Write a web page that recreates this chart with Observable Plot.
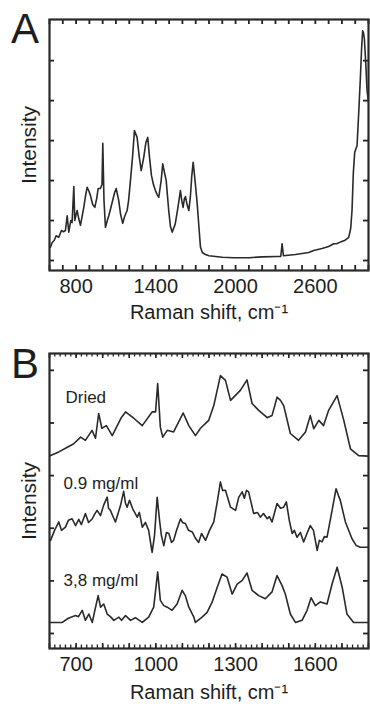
<!DOCTYPE html>
<html><head><meta charset="utf-8">
<script src="https://cdn.jsdelivr.net/npm/d3@7"></script>
<script src="https://cdn.jsdelivr.net/npm/@observablehq/plot@0.6"></script>
<style>
html,body{margin:0;padding:0;background:#fff;}
body{width:370px;height:704px;overflow:hidden;font-family:"Liberation Sans",Arial,sans-serif;}
#wrap{position:relative;width:370px;height:704px;}
.panel{position:absolute;left:0;}
.letter{position:absolute;font-size:42px;line-height:1;color:#1e1e1e;}
</style></head><body>
<div id="wrap">
  <div id="pa" class="panel" style="top:0px"></div>
  <div id="pb" class="panel" style="top:330px"></div>
  <div class="letter" style="left:11px;top:8px">A</div>
  <div class="letter" style="left:11px;top:343px">B</div>
</div>
<script>
// ---------- Panel A data (full range spectrum) ----------
const shiftA = [607,620,635,650,670,690,705,720,733,745,760,770,783,790,800,808,820,833,845,858,870,883,895,908,925,941,955,966,983,995,1001,1010,1021,1035,1046,1060,1075,1090,1102,1121,1135,1151,1165,1184,1195,1209,1225,1239,1259,1275,1290,1310,1325,1339,1352,1367,1382,1397,1410,1422,1440,1452,1465,1478,1497,1510,1523,1545,1565,1585,1595,1605,1615,1623,1635,1648,1660,1670,1681,1695,1711,1725,1736,1750,1773,1800,1850,1900,1986,2100,2200,2312,2340,2350,2360,2450,2550,2588,2650,2700,2738,2760,2788,2820,2851,2866,2876,2886,2896,2914,2925,2939,2948,2956,2962,2969,2980,2989,2999];
const intensityA = [0.33,0.45,0.5,0.62,0.58,0.75,0.72,0.75,1.12,0.71,1.0,0.95,1.85,1.0,1.15,1.25,1.05,0.88,1.1,1.33,1.6,1.83,1.75,1.63,1.4,1.33,1.55,1.8,1.8,1.9,2.93,1.5,0.83,1.0,1.12,1.3,1.5,1.7,1.8,1.5,1.15,0.93,1.1,1.25,1.5,2.0,2.6,3.25,3.08,2.6,2.25,2.6,2.95,3.08,2.6,2.13,1.9,1.75,1.65,1.58,2.0,2.42,2.2,2.0,1.25,0.85,0.71,0.9,1.3,1.75,1.5,1.33,1.55,1.6,1.4,1.25,1.6,2.1,2.46,2.0,1.43,0.8,0.33,0.2,0.15,0.12,0.1,0.08,0.07,0.07,0.09,0.1,0.1,0.42,0.12,0.15,0.2,0.25,0.3,0.35,0.42,0.42,0.46,0.5,0.58,0.8,1.25,2.2,2.7,2.88,3.6,4.58,5.3,5.75,5.7,5.55,4.9,4.25,4.0];

// ---------- Panel B data (fingerprint region, offset spectra) ----------
const driedShift = [604,635,667,690,717,735,760,773,785,797,814,836,855,870,886,917,949,986,999,1007,1017,1026,1043,1067,1103,1124,1149,1168,1199,1218,1243,1262,1281,1318,1343,1362,1387,1419,1437,1456,1469,1481,1506,1537,1563,1581,1594,1613,1631,1650,1682,1707,1732,1763,1799];
const driedInt = [3.38,3.45,3.54,3.6,3.73,3.67,3.86,3.71,4.18,3.9,3.95,3.76,3.95,4.1,4.21,4.09,3.95,4.21,4.21,4.75,3.92,3.73,3.86,3.83,4.19,3.95,3.76,3.9,4.05,4.33,4.9,4.81,4.43,4.62,4.82,4.37,4.24,4.1,4.14,4.49,4.43,4.33,3.8,3.67,3.83,4.14,3.89,4.05,3.95,4.24,4.52,4.05,3.51,3.38,3.37];

const lowShift = [604,619,635,645,660,671,685,698,710,720,735,747,761,769,779,792,803,817,822,829,841,848,859,867,879,886,892,901,913,930,938,949,961,973,986,995,1005,1014,1021,1030,1040,1049,1059,1067,1078,1093,1100,1111,1123,1137,1149,1161,1172,1187,1202,1218,1232,1243,1251,1262,1273,1281,1300,1312,1325,1333,1341,1349,1368,1382,1393,1405,1419,1427,1437,1456,1469,1481,1491,1502,1513,1521,1531,1544,1556,1570,1581,1593,1607,1615,1625,1634,1644,1663,1678,1687,1694,1713,1738,1754,1769,1799];
const lowInt = [1.77,1.96,2.12,1.96,2.02,2.15,2.18,2.05,2.17,2.07,2.28,2.11,2.18,2.26,2.34,2.24,2.43,2.59,2.38,2.34,2.2,2.12,2.3,2.43,2.7,2.47,2.4,2.53,2.37,2.21,2.3,2.02,2.11,1.96,1.54,1.86,2.59,2.15,1.86,1.67,1.92,1.9,1.73,1.77,1.96,2.18,2.11,2.09,1.96,1.93,1.81,1.73,1.9,1.77,1.96,2.12,2.53,2.88,2.72,2.72,2.53,2.4,2.34,2.59,2.69,2.57,2.72,2.69,2.28,2.3,2.21,2.28,2.18,2.22,2.12,2.47,2.38,2.4,2.5,2.15,1.9,1.96,1.83,1.92,1.74,1.92,2.05,1.96,1.58,1.77,1.74,1.84,1.83,2.34,2.75,2.62,2.53,2.12,1.8,1.67,1.64,1.64];

const highShift = [604,648,671,698,709,723,735,748,761,769,783,792,804,817,829,842,861,871,886,905,923,949,973,992,1007,1017,1030,1043,1061,1080,1099,1111,1124,1143,1149,1174,1193,1212,1231,1249,1268,1287,1306,1325,1343,1362,1387,1412,1437,1456,1475,1487,1506,1525,1550,1569,1584,1600,1619,1644,1663,1682,1701,1719,1744,1799];
const highInt = [0.21,0.21,0.29,0.34,0.32,0.44,0.25,0.37,0.21,0.4,0.72,0.5,0.56,0.37,0.32,0.25,0.31,0.25,0.34,0.25,0.3,0.21,0.31,0.5,1.17,0.63,0.53,0.5,0.44,0.56,0.82,0.72,0.5,0.31,0.21,0.31,0.4,0.6,0.88,1.13,1.07,0.75,0.94,1.01,1.15,0.82,0.72,0.66,0.79,1.1,0.91,0.75,0.37,0.21,0.25,0.44,0.68,0.53,0.6,0.56,0.94,1.26,0.88,0.37,0.21,0.21];

const seriesNames = ["Dried", "0.9 mg/ml", "3,8 mg/ml"];
const labelShift = [660, 653, 653];
const labelIntensity = [4.49, 2.85, 1.0];

// ---------- axis ticks ----------
const tickLabelsA = [800, 1400, 2000, 2600];
const tickLabelsB = [700, 1000, 1300, 1600];
const yTicks = [0, 1, 2, 3, 4, 5];
const minorA = d3.range(600, 3001, 100);
const minorB = d3.range(600, 1801, 20);
const majorB = d3.range(600, 1801, 100);

const INK = "#2a2a2a";
const TICK = "#222";
const FONT = "Liberation Sans, Arial, sans-serif";
const xTitle = "Raman shift, cm\u207B\u00B9";

// inward-pointing box ticks on all four sides of the frame
function boxAxes(dims, labels, minor, major, minorLen, majorLen, minorW, titleOffset) {
  const none = () => "";
  const iw = dims.width - dims.marginLeft - dims.marginRight;
  const ih = dims.height - dims.marginTop - dims.marginBottom;
  const m = [
    Plot.axisX({anchor: "bottom", ticks: labels, tickSize: 0, tickPadding: 8, fontSize: 20, fill: "#1e1e1e",
      tickFormat: d => String(d), label: xTitle, labelAnchor: "center", labelOffset: titleOffset, labelArrow: "none"}),
    Plot.axisY({anchor: "left", ticks: [], tickSize: 0, tickFormat: none, fill: "#1e1e1e",
      label: "Intensity", labelAnchor: "center", labelOffset: 28, labelArrow: "none"}),
    Plot.ruleX(minor, {x: d => d, insetTop: ih - minorLen, stroke: TICK, strokeWidth: minorW}),
    Plot.ruleX(minor, {x: d => d, insetBottom: ih - minorLen, stroke: TICK, strokeWidth: minorW}),
    Plot.ruleY(yTicks, {y: d => d, insetRight: iw - 5, stroke: TICK, strokeWidth: 1.8}),
    Plot.ruleY(yTicks, {y: d => d, insetLeft: iw - 5, stroke: TICK, strokeWidth: 1.8})
  ];
  if (major) {
    m.push(Plot.ruleX(major, {x: d => d, insetTop: ih - majorLen, stroke: TICK, strokeWidth: 1.6}));
    m.push(Plot.ruleX(major, {x: d => d, insetBottom: ih - majorLen, stroke: TICK, strokeWidth: 1.6}));
  }
  return m;
}

const dimsA = {width: 370, height: 330, marginLeft: 49, marginRight: 2, marginTop: 19, marginBottom: 60};
const dataA = shiftA.map((s, i) => ({shift: s, intensity: intensityA[i]}));

const plotA = Plot.plot({
  ...dimsA,
  style: {fontFamily: FONT, fontSize: "21px", background: "#fff", color: "#1e1e1e"},
  x: {domain: [600, 3000]},
  y: {domain: [-0.25, 6.03]},
  marks: [
    ...boxAxes(dimsA, tickLabelsA, minorA, null, 5, 5, 1.8, 48),
    Plot.line(dataA, {x: "shift", y: "intensity", stroke: INK, strokeWidth: 1.6}),
    Plot.frame({stroke: INK, strokeWidth: 2.2})
  ]
});
document.getElementById("pa").appendChild(plotA);

const dimsB = {width: 370, height: 374, marginLeft: 49, marginRight: 2, marginTop: 23, marginBottom: 56};
const dataB = [
  ...driedShift.map((s, i) => ({series: seriesNames[0], shift: s, intensity: driedInt[i]})),
  ...lowShift.map((s, i) => ({series: seriesNames[1], shift: s, intensity: lowInt[i]})),
  ...highShift.map((s, i) => ({series: seriesNames[2], shift: s, intensity: highInt[i]}))
];
const labelsB = seriesNames.map((n, i) => ({name: n, shift: labelShift[i], intensity: labelIntensity[i]}));

const plotB = Plot.plot({
  ...dimsB,
  style: {fontFamily: FONT, fontSize: "21px", background: "#fff", color: "#1e1e1e"},
  x: {domain: [600, 1800]},
  y: {domain: [-0.285, 5.32]},
  marks: [
    ...boxAxes(dimsB, tickLabelsB, minorB, majorB, 3.5, 5, 1.3, 50),
    Plot.line(dataB, {x: "shift", y: "intensity", z: "series", stroke: INK, strokeWidth: 1.6}),
    Plot.text(labelsB, {x: "shift", y: "intensity", text: "name", textAnchor: "start", fontSize: 17, fill: "#1e1e1e"}),
    Plot.frame({stroke: INK, strokeWidth: 2.2})
  ]
});
document.getElementById("pb").appendChild(plotB);
</script>
</body></html>
